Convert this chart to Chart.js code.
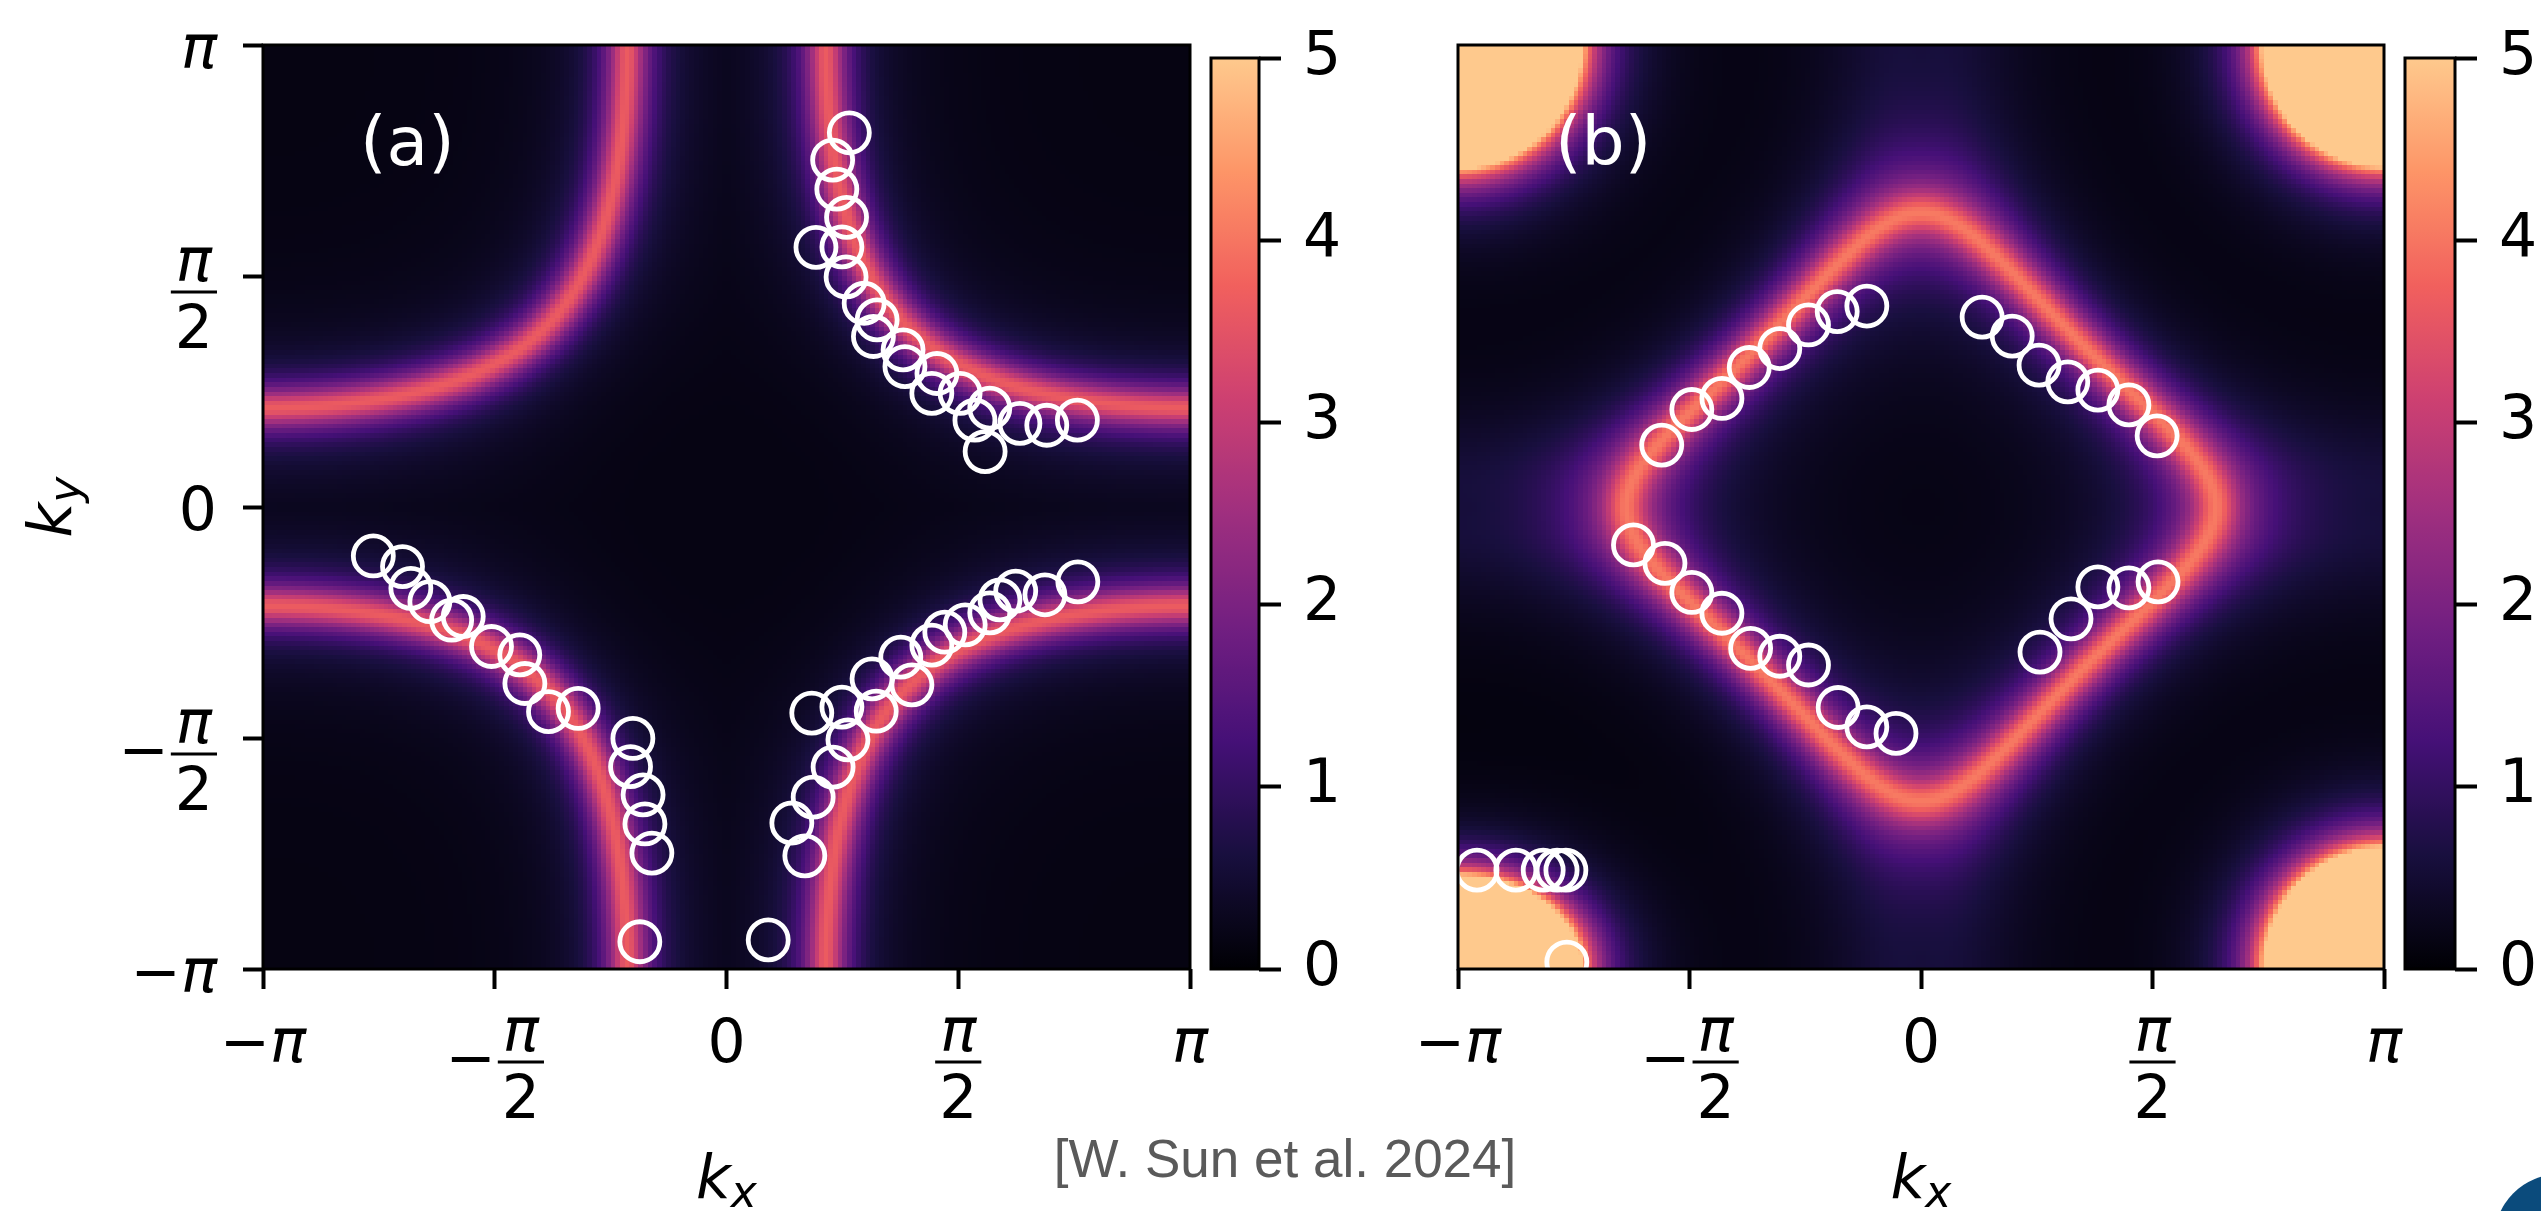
<!DOCTYPE html>
<html><head><meta charset="utf-8">
<script src="https://cdn.jsdelivr.net/npm/chart.js@4.4.1/dist/chart.umd.min.js"></script>
<style>
html,body{margin:0;padding:0;background:#ffffff;}
body{width:2541px;height:1211px;position:relative;overflow:hidden;}
canvas{position:absolute;top:0;}
#caption{position:absolute;left:985px;top:1132px;width:600px;text-align:center;font-family:"Liberation Sans",Arial,sans-serif;font-size:53px;line-height:53px;color:#5a5a5a;white-space:nowrap;}
</style></head><body>
<canvas id="cbarA" width="180" height="1211" style="left:1200px"></canvas>
<canvas id="chartA" width="1230" height="1211" style="left:0px"></canvas>
<canvas id="cbarB" width="151" height="1211" style="left:2390px"></canvas>
<canvas id="chartB" width="1040" height="1211" style="left:1380px"></canvas>
<div id="caption">[W. Sun et al. 2024]</div>
<script>
// ---------- data (momenta in units of π) ----------
const panelA_kx = [0.265,0.229,0.238,0.259,0.193,0.249,0.258,0.297,0.325,0.317,0.381,0.385,0.454,0.443,0.504,0.536,0.568,0.558,0.633,0.691,0.757,
  -0.762,-0.699,-0.681,-0.640,-0.593,-0.568,-0.507,-0.446,-0.435,-0.384,-0.320,-0.202,-0.207,-0.180,-0.176,-0.161,-0.187,
  0.090,0.169,0.141,0.187,0.230,0.262,0.184,0.249,0.323,0.314,0.400,0.376,0.443,0.471,0.515,0.568,0.590,0.624,0.687,0.758];
const panelA_ky = [0.810,0.751,0.688,0.627,0.562,0.563,0.498,0.441,0.405,0.369,0.340,0.304,0.289,0.246,0.246,0.188,0.214,0.120,0.181,0.177,0.188,
  -0.106,-0.129,-0.176,-0.205,-0.245,-0.237,-0.302,-0.320,-0.382,-0.443,-0.436,-0.501,-0.562,-0.623,-0.686,-0.749,-0.941,
  -0.937,-0.755,-0.684,-0.628,-0.563,-0.504,-0.446,-0.433,-0.442,-0.372,-0.385,-0.325,-0.299,-0.271,-0.255,-0.229,-0.201,-0.182,-0.190,-0.162];
const panelB_kx = [-0.560,-0.495,-0.430,-0.371,-0.305,-0.243,-0.181,-0.117,
  0.132,0.197,0.255,0.317,0.382,0.449,0.510,
  -0.621,-0.553,-0.495,-0.430,-0.368,-0.305,-0.243,-0.179,-0.117,-0.054,
  0.257,0.324,0.382,0.449,0.512,
  -0.959,-0.875,-0.816,-0.786,-0.767,-0.765];
const panelB_ky = [0.134,0.211,0.235,0.302,0.343,0.394,0.423,0.435,
  0.411,0.370,0.307,0.271,0.253,0.221,0.154,
  -0.082,-0.122,-0.185,-0.230,-0.306,-0.323,-0.342,-0.434,-0.476,-0.490,
  -0.314,-0.242,-0.173,-0.175,-0.162,
  -0.786,-0.786,-0.786,-0.786,-0.786,-0.985];

const xTickValues = [-1,-0.5,0,0.5,1];
const xTickLabels = ['−π','−π/2','0','π/2','π'];
const yTickValues = [-1,-0.5,0,0.5,1];
const yTickLabels = ['−π','−π/2','0','π/2','π'];
const cbarTicks = [0,1,2,3,4,5];
const panelLabels = ['(a)','(b)'];

// background spectral-weight model parameters
const A_S0 = 0.3305, A_PEAK = 3.5, A_WIDTH = 0.135, A_GMIN = 0.15, A_FLOOR = 0.15;
const B_BETA = -0.52, B_MU = 0.80, B_PEAK = 2.6, B_WIDTH = 0.12, B_HAZE = 1.4, B_ETA = 0.22, B_FLOOR = 0.05;
const cornerPockets = [[-1,1,0.265,0.264],[1,1,0.26,0.26],[1,-1,0.257,0.26],[-1,-1,0.265,0.2]];
const POCKET_PEAK = 5.3, POCKET_POWER = 5.5;

const magmaStops = ['#000004','#180F3E','#451077','#721F81','#9F2F7F','#CD4071','#F1605D','#FD9567','#FEC98D'];
const cbarMin = 0, cbarMax = 5;

// ---------- helpers ----------
const PI = Math.PI;
const stopRGB = magmaStops.map(h => [parseInt(h.slice(1,3),16), parseInt(h.slice(3,5),16), parseInt(h.slice(5,7),16)]);
function cmap(v){
  let p = (v - cbarMin)/(cbarMax - cbarMin); p = Math.max(0, Math.min(1, p));
  const s = p*(stopRGB.length-1); const i = Math.min(Math.floor(s), stopRGB.length-2); const f = s - i;
  const a = stopRGB[i], b = stopRGB[i+1];
  return [Math.round(a[0]+(b[0]-a[0])*f), Math.round(a[1]+(b[1]-a[1])*f), Math.round(a[2]+(b[2]-a[2])*f)];
}
function intensityA(kx, ky){
  const sx=Math.sin(kx/2), sy=Math.sin(ky/2), cx=Math.cos(kx/2), cy=Math.cos(ky/2);
  const F = Math.abs(sx*sy);
  const g = 0.5*Math.sqrt(cx*cx*sy*sy + sx*sx*cy*cy);
  const d = (F - A_S0)/Math.max(g, A_GMIN);
  return A_FLOOR + A_PEAK*A_WIDTH*A_WIDTH/(d*d + A_WIDTH*A_WIDTH);
}
function intensityB(kx, ky){
  const ckx=Math.cos(kx), cky=Math.cos(ky), skx=Math.sin(kx), sky=Math.sin(ky);
  const f = ckx + cky + B_BETA*ckx*cky;
  const gx = -skx*(1+B_BETA*cky), gy = -sky*(1+B_BETA*ckx);
  const g = Math.hypot(gx, gy);
  const dE = f - B_MU;
  const geff = Math.max(Math.pow(g,0.7)*Math.pow(0.96,0.3), 0.05);
  const d = dE/geff;
  let v = B_FLOOR + B_PEAK*B_WIDTH*B_WIDTH/(d*d + B_WIDTH*B_WIDTH) + B_HAZE*B_ETA*B_ETA/(dE*dE + B_ETA*B_ETA);
  for (const c of cornerPockets){
    const dx = (kx/PI - c[0])/c[2], dy = (ky/PI - c[1])/c[3];
    const rho = Math.max(Math.hypot(dx, dy), 0.2);
    v += POCKET_PEAK*Math.pow(1/rho, POCKET_POWER);
  }
  return v;
}
function buildField(fn, N){
  const c = document.createElement('canvas'); c.width = N; c.height = N;
  const cx = c.getContext('2d'); const img = cx.createImageData(N, N);
  for (let j=0;j<N;j++){
    const ky = PI*(1 - (j+0.5)*2/N);
    for (let i=0;i<N;i++){
      const kx = PI*(-1 + (i+0.5)*2/N);
      const rgb = cmap(fn(kx, ky)); const o = (j*N+i)*4;
      img.data[o]=rgb[0]; img.data[o+1]=rgb[1]; img.data[o+2]=rgb[2]; img.data[o+3]=255;
    }
  }
  cx.putImageData(img, 0, 0); return c;
}

const F_IT = 'italic 60px "DejaVu Sans"';
const F_TX = '60px "DejaVu Sans"';
function fontFor(t){ return /^[0-9]+$/.test(t) ? F_TX : F_IT; }
function parseLabel(s){
  let neg=false; if (s[0]==='−'){ neg=true; s=s.slice(1); }
  let num=s, den=null; const k=s.indexOf('/');
  if (k>=0){ num=s.slice(0,k); den=s.slice(k+1); }
  return {neg, num, den};
}
function drawTickLabel(ctx, s, anchorX, refY, mode){
  const p = parseLabel(s);
  ctx.font = F_TX; const mw = p.neg ? ctx.measureText('−').width : 0;
  const gap = (p.neg && p.den) ? 2 : 0;
  let bodyW;
  if (p.den){
    ctx.font = fontFor(p.num); const nw = ctx.measureText(p.num).width;
    ctx.font = fontFor(p.den); const dw = ctx.measureText(p.den).width;
    bodyW = Math.max(nw, dw) + 8;
  } else { ctx.font = fontFor(p.num); bodyW = ctx.measureText(p.num).width; }
  const total = mw + gap + bodyW;
  const x0 = mode==='x' ? anchorX - total/2 : anchorX - total;
  ctx.textAlign='left'; ctx.textBaseline='alphabetic'; ctx.fillStyle='#000';
  if (p.den){
    const barY = mode==='x' ? refY + 93 : refY + 16;
    if (p.neg){ ctx.font = F_TX; ctx.fillText('−', x0, barY + 16); }
    const bx = x0 + mw + gap;
    ctx.fillRect(bx, barY - 1.5, bodyW, 3);
    ctx.font = fontFor(p.num); const nw = ctx.measureText(p.num).width; ctx.fillText(p.num, bx + (bodyW-nw)/2, barY - 11);
    ctx.font = fontFor(p.den); const dw = ctx.measureText(p.den).width; ctx.fillText(p.den, bx + (bodyW-dw)/2, barY + 56);
  } else {
    const base = mode==='x' ? refY + 93 : refY + 23;
    if (p.neg){ ctx.font = F_TX; ctx.fillText('−', x0, base); }
    ctx.font = fontFor(p.num); ctx.fillText(p.num, x0 + mw, base);
  }
}
function drawK(ctx, sub){
  ctx.font = F_IT; const wk = ctx.measureText('k').width;
  ctx.font = 'italic 44px "DejaVu Sans"'; const ws = ctx.measureText(sub).width;
  const x0 = -(wk + ws)/2;
  ctx.fillStyle = '#000'; ctx.textAlign = 'left'; ctx.textBaseline = 'alphabetic';
  ctx.font = F_IT; ctx.fillText('k', x0, 0);
  ctx.font = 'italic 44px "DejaVu Sans"'; ctx.fillText(sub, x0 + wk, 9);
}

function panelPlugin(field, label, showY){
  return {
    id: 'panel' + label.replace(/[()]/g,''),
    beforeDatasetsDraw(chart){
      const {ctx, scales:{x, y}} = chart;
      const x0 = x.getPixelForValue(-1), x1 = x.getPixelForValue(1);
      const y0 = y.getPixelForValue(1), y1 = y.getPixelForValue(-1);
      ctx.save(); ctx.imageSmoothingEnabled = false;
      ctx.drawImage(field, x0, y0, x1-x0, y1-y0); ctx.restore();
    },
    afterDraw(chart){
      const {ctx, chartArea:a, scales:{x, y}} = chart;
      ctx.save();
      ctx.strokeStyle = '#000'; ctx.lineWidth = 3;
      ctx.strokeRect(a.left, a.top, a.right-a.left, a.bottom-a.top);
      ctx.fillStyle = '#fff'; ctx.font = '68px "DejaVu Sans"'; ctx.textAlign='left'; ctx.textBaseline='alphabetic';
      ctx.fillText(label, a.left + 97, a.top + 120);
      xTickValues.forEach((v,i) => drawTickLabel(ctx, xTickLabels[i], x.getPixelForValue(v), a.bottom, 'x'));
      if (showY) yTickValues.forEach((v,i) => drawTickLabel(ctx, yTickLabels[i], a.left - 46, y.getPixelForValue(v), 'y'));
      ctx.save(); ctx.translate(x.getPixelForValue(0), a.bottom + 229); drawK(ctx, 'x'); ctx.restore();
      if (showY){ ctx.save(); ctx.translate(a.left - 192, y.getPixelForValue(0)); ctx.rotate(-PI/2); drawK(ctx, 'y'); ctx.restore(); }
      ctx.restore();
    }
  };
}
function cbarPlugin(logo){
  return {
    id: 'cbar',
    beforeDatasetsDraw(chart){
      const {ctx, chartArea:a, scales:{y}} = chart;
      const g = ctx.createLinearGradient(0, y.getPixelForValue(cbarMin), 0, y.getPixelForValue(cbarMax));
      for (let k=0;k<=64;k++){ const c = cmap(cbarMin + (cbarMax-cbarMin)*k/64); g.addColorStop(k/64, `rgb(${c[0]},${c[1]},${c[2]})`); }
      ctx.save(); ctx.fillStyle = g; ctx.fillRect(a.left, a.top, a.right-a.left, a.bottom-a.top); ctx.restore();
    },
    afterDraw(chart){
      const {ctx, chartArea:a} = chart;
      ctx.save(); ctx.strokeStyle='#000'; ctx.lineWidth=3;
      ctx.strokeRect(a.left, a.top, a.right-a.left, a.bottom-a.top);
      if (logo){ ctx.fillStyle='#0b4b7c'; ctx.beginPath(); ctx.arc(170, 1240, 66, 0, 2*PI); ctx.fill(); }
      ctx.restore();
    }
  };
}

Chart.defaults.font.family = '"DejaVu Sans"';
Chart.defaults.color = '#000';

const tickGrid = {display:true, drawOnChartArea:false, drawTicks:true, tickLength:20, tickWidth:4, tickColor:'#000'};

function panelChart(id, kx, ky, label, showY, leftW, rightPad, field){
  const pts = kx.map((v,i) => ({x:v, y:ky[i]}));
  return new Chart(document.getElementById(id), {
    type:'scatter',
    data:{datasets:[{data:pts, pointStyle:'circle', pointRadius:20, pointHoverRadius:20,
      borderColor:'#ffffff', borderWidth:4.8, backgroundColor:'rgba(0,0,0,0)', clip:0}]},
    options:{
      responsive:false, animation:false, devicePixelRatio:1, events:[],
      layout:{autoPadding:false, padding:{top:45, right:rightPad, left:0, bottom:0}},
      plugins:{legend:{display:false}, tooltip:{enabled:false}},
      scales:{
        x:{type:'linear', min:-1, max:1, ticks:{display:false, stepSize:0.5}, grid:tickGrid, border:{display:false},
           afterFit(s){ s.height = 242; }},
        y:{type:'linear', min:-1, max:1, ticks:{display:false, stepSize:0.5},
           grid: showY ? tickGrid : {display:false}, border:{display:false},
           afterFit(s){ s.width = leftW; }}
      }
    },
    plugins:[panelPlugin(field, label, showY)]
  });
}
function cbarChart(id, padLeft, axisW, logo){
  return new Chart(document.getElementById(id), {
    type:'scatter',
    data:{datasets:[]},
    options:{
      responsive:false, animation:false, devicePixelRatio:1, events:[],
      layout:{autoPadding:false, padding:{top:45, left:padLeft, right:0, bottom:242}},
      plugins:{legend:{display:false}, tooltip:{enabled:false}},
      scales:{
        x:{display:false, min:0, max:1},
        y:{position:'right', min:cbarMin, max:cbarMax,
           afterBuildTicks(s){ s.ticks = cbarTicks.map(v => ({value:v})); },
           ticks:{font:{family:'"DejaVu Sans"', size:60}, color:'#000', padding:22},
           grid:{display:true, drawOnChartArea:false, drawTicks:true, tickLength:22, tickWidth:4, tickColor:'#000'},
           border:{display:false},
           afterFit(s){ s.width = axisW; }}
      }
    },
    plugins:[cbarPlugin(logo)]
  });
}

const fieldA = buildField(intensityA, 200);
const fieldB = buildField(intensityB, 200);
panelChart('chartA', panelA_kx, panelA_ky, panelLabels[0], true, 263, 40, fieldA);
cbarChart('cbarA', 11, 121, false);
panelChart('chartB', panelB_kx, panelB_ky, panelLabels[1], false, 78, 36, fieldB);
cbarChart('cbarB', 15, 86, true);
</script></body></html>
